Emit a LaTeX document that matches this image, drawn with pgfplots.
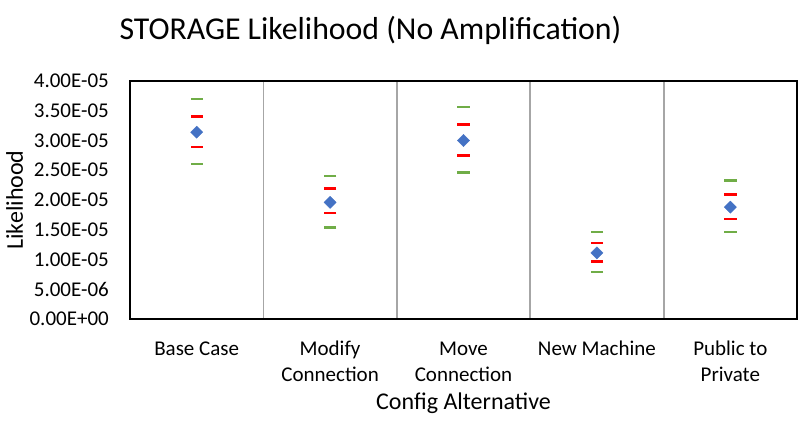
\documentclass[border=0pt]{standalone}
\usepackage{pgfplots}
\pgfplotsset{compat=1.18}
\usepackage{fontspec}
\setmainfont{Carlito}
\definecolor{myblue}{HTML}{4472C4}
\definecolor{myred}{HTML}{FF0000}
\definecolor{mygreen}{HTML}{70AD47}
\definecolor{sepgray}{HTML}{A6A6A6}
\begin{document}
\begin{tikzpicture}
\path[use as bounding box] (0,0) rectangle (800pt,430pt);
\begin{axis}[
  at={(130pt,111pt)}, anchor=south west,
  scale only axis, width=667pt, height=238pt,
  xmin=-0.5, xmax=4.5, ymin=0, ymax=4e-5,
  xtick={0,1,2,3,4},
  xticklabels={{\strut Base Case},{\strut Modify\\Connection},{\strut Move\\Connection},{\strut New Machine},{\strut Public to\\Private}},
  minor xtick={0.5,1.5,2.5,3.5},
  xminorgrids,
  minor grid style={sepgray, line width=1.8pt},
  major tick length=0pt, minor tick length=0pt,
  ytick={0,5e-6,1e-5,1.5e-5,2e-5,2.5e-5,3e-5,3.5e-5,4e-5},
  yticklabels={0.00E+00,5.00E-06,1.00E-05,1.50E-05,2.00E-05,2.50E-05,3.00E-05,3.50E-05,4.00E-05},
  scaled y ticks=false,
  /pgf/number format/assume math mode=true,
  axis line style={black, line width=1.3pt},
  axis on top,
  clip=false,
  xticklabel style={font=\fontsize{21}{26.7}\selectfont, align=center, anchor=north, inner sep=0pt, yshift=-17.3pt},
  yticklabel style={font=\fontsize{21}{25}\selectfont, anchor=east, inner sep=0pt, xshift=-21pt},
  xlabel={Config Alternative},
  ylabel={Likelihood},
  title={STORAGE Likelihood (No Amplification)},
  every axis x label/.style={at={([yshift=-91pt]axis description cs:0.5,0)}, anchor=base, font=\fontsize{24}{28}\selectfont},
  every axis y label/.style={at={([xshift=-107pt]axis description cs:0,0.5)}, rotate=90, anchor=base, font=\fontsize{24}{28}\selectfont},
  every axis title/.style={at={([xshift=-93pt,yshift=41pt]axis description cs:0.5,1)}, anchor=base, font=\fontsize{31.8}{36}\selectfont},
]
\addplot[only marks, mark=-, mark size=6.2pt, mark options={draw=mygreen, line width=2.3pt}]
  coordinates {(0,3.70e-5) (1,2.40e-5) (2,3.56e-5) (3,1.46e-5) (4,2.33e-5)
               (0,2.60e-5) (1,1.54e-5) (2,2.46e-5) (3,0.79e-5) (4,1.46e-5)};
\addplot[only marks, mark=-, mark size=6.2pt, mark options={draw=myred, line width=2.6pt}]
  coordinates {(0,3.40e-5) (1,2.19e-5) (2,3.27e-5) (3,1.28e-5) (4,2.09e-5)
               (0,2.89e-5) (1,1.78e-5) (2,2.75e-5) (3,0.97e-5) (4,1.68e-5)};
\addplot[only marks, mark=square*, mark size=4.3pt, mark options={fill=myblue, draw=myblue, rotate=45}]
  coordinates {(0,3.14e-5) (1,1.96e-5) (2,3.00e-5) (3,1.11e-5) (4,1.88e-5)};
\end{axis}
\end{tikzpicture}
\end{document}
